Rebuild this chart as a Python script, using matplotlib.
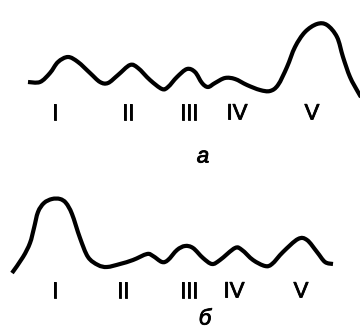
import numpy as np
import matplotlib
matplotlib.use("Agg")
import matplotlib.pyplot as plt
import matplotlib.patheffects as pe
from matplotlib.path import Path
from matplotlib.patches import PathPatch

# Densitogram a: position along the strip and trace level (downward screen units)
pos_a = [28, 40, 50, 58, 68, 78, 90, 100, 108, 118, 130, 138, 150, 162, 168, 177,
         187, 195, 202, 208, 215, 225, 235, 247, 260, 270, 278, 287, 295, 305, 317,
         327, 337, 343, 350, 358, 361]
lvl_a = [82, 82, 73, 62, 57, 62, 73, 82, 83, 75, 65, 68, 80, 89, 87, 77,
         69, 72, 83, 87, 83, 78, 79, 85, 90, 91, 85, 67, 47, 32, 24,
         25, 37, 57, 77, 92, 97]

# Densitogram б
pos_b = [12, 23, 30, 34, 38, 44, 52, 60, 66, 72, 80, 88, 98, 107, 120, 133, 147,
         153, 162, 168, 177, 185, 193, 203, 212, 220, 235, 242, 253, 265, 272, 283,
         298, 307, 317, 325, 333]
lvl_b = [273, 257, 243, 228, 212, 203, 199, 199, 203, 214, 238, 257, 265, 267, 264,
         260, 254, 256, 262, 260, 250, 246, 248, 258, 264, 260, 248, 250, 260, 266,
         264, 252, 239, 240, 252, 262, 264]

fractions = ["I", "II", "III", "IV", "V"]
label_pos_a = [55, 128, 189, 237, 312]
label_pos_b = [55, 123, 189, 234, 301]
captions = ["а", "б"]


def smooth_path(xs, ys):
    """Catmull-Rom curve through the points, expressed as cubic Bezier segments."""
    pts = np.column_stack([xs, ys]).astype(float)
    ext = np.vstack([pts[0], pts, pts[-1]])
    verts = [tuple(pts[0])]
    codes = [Path.MOVETO]
    for i in range(1, len(ext) - 2):
        p0, p1, p2, p3 = ext[i - 1], ext[i], ext[i + 1], ext[i + 2]
        c1 = p1 + (p2 - p0) / 6.0
        c2 = p2 - (p3 - p1) / 6.0
        verts += [tuple(c1), tuple(c2), tuple(p2)]
        codes += [Path.CURVE4] * 3
    return Path(verts, codes)


fig = plt.figure(figsize=(3.6, 3.28), dpi=100)
ax = fig.add_axes([0, 0, 1, 1])
ax.set_xlim(0, 360)
ax.set_ylim(328, 0)
ax.axis("off")

for xs, ys in [(pos_a, lvl_a), (pos_b, lvl_b)]:
    ax.add_patch(PathPatch(smooth_path(xs, ys), fill=False, lw=3.0, ec="black",
                           capstyle="butt", joinstyle="round"))

label_font = ["Liberation Sans Narrow", "Liberation Sans"]
heavier = [pe.withStroke(linewidth=0.6, foreground="black")]
for labels_x, y in [(label_pos_a, 114), (label_pos_b, 292)]:
    for name, x in zip(fractions, labels_x):
        ax.text(x, y, name, ha="center", va="center", fontsize=16,
                family=label_font, color="black", path_effects=heavier)

ax.text(203, 157, captions[0], ha="center", va="center", fontsize=16,
        style="italic", family="Liberation Sans", path_effects=heavier)
ax.text(205, 319, captions[1], ha="center", va="center", fontsize=16,
        style="italic", family="Liberation Sans", path_effects=heavier)

fig.savefig("out.png", dpi=100)
